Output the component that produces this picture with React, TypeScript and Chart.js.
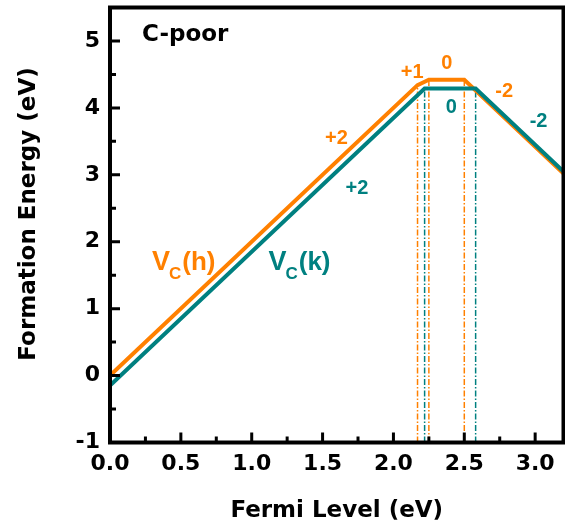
import React, { useEffect, useRef } from 'react';
import { Chart, registerables } from 'chart.js';

Chart.register(...registerables);

// ---- data ----
const hFermi = [0, 2.17, 2.25, 2.5, 3.2];
const hEnergy = [0.0, 4.34, 4.42, 4.42, 3.02];
const kFermi = [0, 2.22, 2.58, 3.2];
const kEnergy = [-0.15, 4.29, 4.29, 3.05];

const xTicks = [0, 0.5, 1.0, 1.5, 2.0, 2.5, 3.0];
const yTicks = [-1, 0, 1, 2, 3, 4, 5];

const chargeText = ['+1', '0', '-2', '0', '-2', '+2', '+2'];
const chargeSeries = ['h', 'h', 'h', 'k', 'k', 'h', 'k'];
const chargeX = [2.132, 2.377, 2.781, 2.408, 3.024, 1.598, 1.742];
const chargeY = [4.552, 4.686, 4.263, 4.027, 3.82, 3.565, 2.818];

const seriesNames = ['h', 'k'];
const seriesLabelX = [0.296, 1.118];
const seriesLabelY = [1.584, 1.584];

const ORANGE = '#FF8000';
const TEAL = '#008080';
const colorOf = (s: string) => (s === 'h' ? ORANGE : TEAL);

const SANS = '"Liberation Sans", Arial, sans-serif';
const DJ = '"DejaVu Sans", sans-serif';

const decor = {
  id: 'decor',
  afterDatasetsDraw(chart: any) {
    const { ctx, chartArea: a, scales } = chart;
    const x = scales.x;
    const y = scales.y;
    ctx.save();

    // charge-state labels
    ctx.font = `bold 20px ${SANS}`;
    ctx.textAlign = 'center';
    ctx.textBaseline = 'alphabetic';
    chargeText.forEach((t, i) => {
      const m = ctx.measureText(t);
      const cx = x.getPixelForValue(chargeX[i]);
      const cy = y.getPixelForValue(chargeY[i]);
      ctx.fillStyle = colorOf(chargeSeries[i]);
      ctx.fillText(t, cx, cy + (m.actualBoundingBoxAscent - m.actualBoundingBoxDescent) / 2);
    });

    // V_C(h), V_C(k)
    ctx.textAlign = 'left';
    seriesNames.forEach((s, i) => {
      const px = x.getPixelForValue(seriesLabelX[i]);
      const py = y.getPixelForValue(seriesLabelY[i]);
      ctx.fillStyle = colorOf(s);
      ctx.font = `bold 27px ${SANS}`;
      ctx.fillText('V', px, py);
      const wv = ctx.measureText('V').width;
      ctx.font = `bold 17px ${SANS}`;
      ctx.fillText('C', px + wv - 1, py + 9);
      const wc = ctx.measureText('C').width;
      ctx.font = `bold 26px ${SANS}`;
      ctx.fillText(`(${s})`, px + wv - 1 + wc + 1, py);
    });

    // C-poor
    ctx.fillStyle = '#000';
    ctx.font = `bold 23px ${DJ}`;
    {
      const m = ctx.measureText('C-poor');
      const cy = y.getPixelForValue(5.127);
      ctx.fillText('C-poor', x.getPixelForValue(0.226), cy + m.actualBoundingBoxAscent / 2);
    }

    // frame
    ctx.strokeStyle = '#000';
    ctx.lineWidth = 4;
    ctx.strokeRect(a.left, a.top, a.right - a.left, a.bottom - a.top);

    // inward ticks
    ctx.lineWidth = 3;
    ctx.beginPath();
    xTicks.forEach((v) => {
      const p = x.getPixelForValue(v);
      ctx.moveTo(p, a.bottom);
      ctx.lineTo(p, a.bottom - 10);
    });
    for (let v = 0.25; v < 3.2; v += 0.5) {
      const p = x.getPixelForValue(v);
      ctx.moveTo(p, a.bottom);
      ctx.lineTo(p, a.bottom - 6);
    }
    yTicks.forEach((v) => {
      const p = y.getPixelForValue(v);
      ctx.moveTo(a.left, p);
      ctx.lineTo(a.left + 10, p);
    });
    for (let v = -0.5; v < 5.5; v += 1) {
      const p = y.getPixelForValue(v);
      ctx.moveTo(a.left, p);
      ctx.lineTo(a.left + 6, p);
    }
    ctx.stroke();

    // y-axis title
    ctx.translate(29, (a.top + a.bottom) / 2 - 11);
    ctx.rotate(-Math.PI / 2);
    ctx.font = `bold 23px ${DJ}`;
    ctx.textAlign = 'center';
    ctx.textBaseline = 'middle';
    ctx.fillStyle = '#000';
    ctx.fillText('Formation Energy (eV)', 0, 0);

    ctx.restore();
  },
};

export default function App() {
  const ref = useRef<HTMLCanvasElement | null>(null);

  useEffect(() => {
    if (!ref.current) return;
    const toPts = (xs: number[], ys: number[]) => xs.map((v, i) => ({ x: v, y: ys[i] }));
    const verticals = (xs: number[], ys: number[], color: string) =>
      xs.slice(1, -1).map((v, i) => ({
        data: [
          { x: v, y: -1 },
          { x: v, y: ys[i + 1] },
        ],
        showLine: true,
        borderColor: color,
        borderWidth: 1.5,
        borderDash: [6, 2, 1.5, 2],
        pointRadius: 0,
        fill: false,
      }));

    const tickFont = { family: DJ, weight: 'bold' as const, size: 22 };

    const chart = new Chart(ref.current, {
      type: 'scatter',
      data: {
        datasets: [
          {
            data: toPts(kFermi, kEnergy),
            showLine: true,
            borderColor: TEAL,
            borderWidth: 4,
            pointRadius: 0,
            fill: false,
          },
          {
            data: toPts(hFermi, hEnergy),
            showLine: true,
            borderColor: ORANGE,
            borderWidth: 4,
            pointRadius: 0,
            fill: false,
          },
          ...verticals(hFermi, hEnergy, ORANGE),
          ...verticals(kFermi, kEnergy, TEAL),
        ] as any,
      },
      options: {
        animation: false,
        responsive: false,
        devicePixelRatio: 1,
        events: [],
        layout: { padding: { left: 0, top: 7.5, right: 1.5, bottom: 0 } },
        plugins: { legend: { display: false }, tooltip: { enabled: false } },
        scales: {
          x: {
            type: 'linear',
            position: 'bottom',
            min: 0,
            max: 3.2,
            grid: { display: false, drawTicks: false },
            border: { display: false },
            afterBuildTicks: (s: any) => {
              s.ticks = xTicks.map((v) => ({ value: v }));
            },
            afterFit: (s: any) => {
              s.height = 87.5;
              s.paddingLeft = 0;
              s.paddingRight = 0;
            },
            ticks: {
              padding: 9,
              font: tickFont,
              color: '#000',
              maxRotation: 0,
              autoSkip: false,
              callback: (v: any) => Number(v).toFixed(1),
            },
            title: {
              display: true,
              text: 'Fermi Level (eV)',
              color: '#000',
              font: { family: DJ, weight: 'bold', size: 23 },
              padding: { top: 0, bottom: 5 },
            },
          },
          y: {
            type: 'linear',
            position: 'left',
            min: -1,
            max: 5.5,
            grid: { display: false, drawTicks: false },
            border: { display: false },
            afterBuildTicks: (s: any) => {
              s.ticks = yTicks.map((v) => ({ value: v }));
            },
            afterFit: (s: any) => {
              s.width = 110;
              s.paddingTop = 0;
              s.paddingBottom = 0;
            },
            ticks: {
              padding: 10,
              font: tickFont,
              color: '#000',
              autoSkip: false,
              callback: (v: any) => String(v),
            },
          },
        },
      } as any,
      plugins: [decor],
    });
    return () => chart.destroy();
  }, []);

  return (
    <div style={{ position: 'absolute', left: 0, top: 0, width: 565, height: 530, background: '#fff' }}>
      <canvas ref={ref} width={565} height={530} style={{ display: 'block' }} />
    </div>
  );
}
